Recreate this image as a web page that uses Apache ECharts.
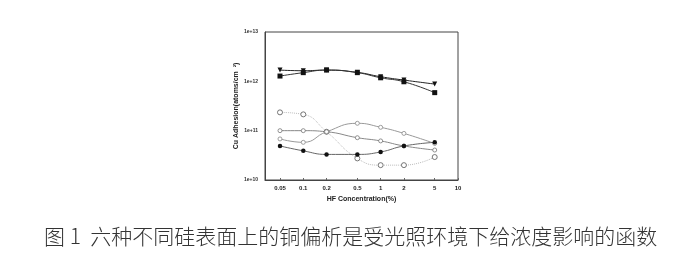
<!DOCTYPE html>
<html><head><meta charset="utf-8">
<script src="https://cdn.jsdelivr.net/npm/echarts@6/dist/echarts.min.js"></script>
<style>html,body{margin:0;padding:0;background:#fff;}#c{width:685px;height:263px;}</style>
</head><body><div id="c"></div>
<script>
var hfConc = [0.05, 0.1, 0.2, 0.5, 1, 2, 5];
var xTickLabels = [0.05, 0.1, 0.2, 0.5, 1, 2, 5, 10];
var yTickLabels = ['1e+10', '1e+11', '1e+12', '1e+13'];
var sTriDown = [1.69e12, 1.64e12, 1.69e12, 1.52e12, 1.24e12, 1.06e12, 8.8e11];
var sSquare  = [1.28e12, 1.50e12, 1.69e12, 1.50e12, 1.18e12, 9.8e11, 5.9e11];
var sOpenBig = [2.35e11, 2.14e11, 9.5e10, 2.74e10, 2.0e10, 2.0e10, 2.92e10];
var sOpenFlat = [1.0e11, 1.0e11, 9.5e10, 7.2e10, 6.2e10, 4.9e10, 4.05e10];
var sOpenTri = [6.8e10, 5.8e10, 9.5e10, 1.41e11, 1.17e11, 8.8e10, 5.5e10];
var sFilledCirc = [4.9e10, 3.9e10, 3.3e10, 3.3e10, 3.7e10, 4.9e10, 5.8e10];
var caption = '图 1  六种不同硅表面上的铜偏析是受光照环境下给浓度影响的函数';

function pairs(arr){ return hfConc.map(function(x,i){ return [x, arr[i]]; }); }
function mk(name, data, symbol, size, lineColor, lineType, markColor, filled){
  return {name:name, type:'line', data:pairs(data), smooth:true, symbol:symbol, symbolSize:size,
    symbolRotate: symbol === 'triangle' ? 180 : 0,
    lineStyle:{color:lineColor, width:1, type:lineType},
    itemStyle:{color: filled ? markColor : '#fff', borderColor:markColor, borderWidth: filled ? 0 : 0.8}};
}
var chart = echarts.init(document.getElementById('c'));
chart.setOption({
  animation:false,
  grid:{left:265, right:227, top:32, bottom:83, show:true, borderColor:'#444', borderWidth:1},
  xAxis:{type:'log', logBase:10, min:0.032, max:10,
    name:'HF Concentration(%)', nameLocation:'middle', nameGap:16,
    nameTextStyle:{fontFamily:'Liberation Sans', fontSize:7, fontWeight:'bold', color:'#222'},
    axisLine:{lineStyle:{color:'#444'}},
    axisTick:{show:true, inside:true, length:2, customValues:xTickLabels, lineStyle:{color:'#666'}},
    axisLabel:{customValues:xTickLabels, fontFamily:'Liberation Sans', fontSize:6, fontWeight:'bold', color:'#222', margin:5,
      formatter:function(v){ return String(+v.toPrecision(3)); }},
    splitLine:{show:false}},
  yAxis:{type:'log', logBase:10, min:1e10, max:1e13,
    name:'Cu Adhesion(atoms/cm  ²)', nameLocation:'middle', nameGap:25, nameRotate:90,
    nameTextStyle:{fontFamily:'Liberation Sans', fontSize:7, fontWeight:'bold', color:'#222'},
    axisLine:{lineStyle:{color:'#444'}},
    axisTick:{show:false},
    axisLabel:{fontFamily:'Liberation Sans', fontSize:5, fontWeight:'bold', color:'#333', margin:7,
      formatter:function(v){ return yTickLabels[Math.round(Math.log10(v))-10]; }},
    splitLine:{show:false}},
  series:[
    mk('a', sTriDown, 'triangle', 5, '#222', 'solid', '#111', true),
    mk('b', sSquare, 'rect', 5, '#333', 'solid', '#111', true),
    mk('c', sOpenBig, 'circle', 5, '#bbb', 'dotted', '#555', false),
    mk('d', sOpenFlat, 'circle', 4, '#888', 'solid', '#777', false),
    mk('e', sOpenTri, 'circle', 4, '#999', 'solid', '#888', false),
    mk('f', sFilledCirc, 'circle', 4.5, '#666', 'solid', '#111', true)
  ],
  graphic:[{type:'text', left:44, top:226, style:{text:caption, font:'300 21px "Noto Sans CJK SC"', fill:'#333'}}]
});
</script></body></html>
